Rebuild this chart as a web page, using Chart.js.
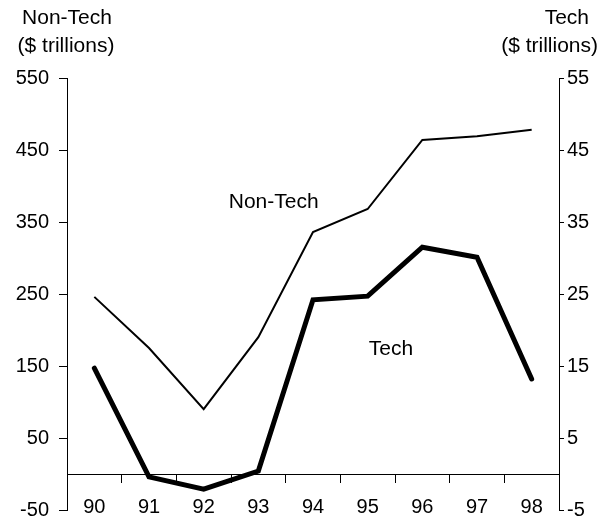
<!DOCTYPE html>
<html>
<head>
<meta charset="utf-8">
<script src="https://cdn.jsdelivr.net/npm/chart.js@4/dist/chart.umd.min.js"></script>
<style>
	html, body { margin:0; padding:0; background:#fff; }
	#wrap { width:602px; height:529px; position:relative; }
</style>
</head>
<body>
<div id="wrap"><canvas id="canvas-tech"></canvas></div>
<script>
	var years = ["90","91","92","93","94","95","96","97","98"];
	var nonTech = [246, 175, 90, 190, 336, 368, 464, 469, 478];
	var tech = [14.7, -0.4, -2.1, 0.4, 24.2, 24.7, 31.5, 30.1, 13.2];
	var leftTicks = [-50, 550, 100];
	var rightTicks = [-5, 55, 10];

	Chart.defaults.font.family = "'Liberation Sans', Arial, sans-serif";
	Chart.defaults.font.size = 20;
	Chart.defaults.color = "#000";

	// text labels drawn on top of the chart
	var textos = {
		id: "textos",
		afterDraw: function(chart){
			var ctx = chart.ctx;
			var x = chart.scales.x, y = chart.scales.y, y1 = chart.scales.y1;
			ctx.save();
			ctx.fillStyle = "#000";
			ctx.font = "21px 'Liberation Sans', Arial, sans-serif";
			ctx.textBaseline = "middle";
			ctx.textAlign = "center";
			ctx.fillText("Non-Tech", 67, 18);
			ctx.fillText("($ trillions)", 66, 46);
			ctx.textAlign = "right";
			ctx.fillText("Tech", 589, 18);
			ctx.fillText("($ trillions)", 598, 46);
			ctx.textAlign = "center";
			ctx.fillText("Non-Tech", (x.getPixelForValue(3) + x.getPixelForValue(4)) / 2 - 12, y.getPixelForValue(378));
			ctx.fillText("Tech", (x.getPixelForValue(5) + x.getPixelForValue(6)) / 2 - 4, y1.getPixelForValue(17.4));
			ctx.restore();
		}
	};

	// fixed axis width, no extra label padding above/below the plot
	function fijarEje(ancho){
		return function(scale){
			scale.width = ancho;
			scale.paddingTop = 0;
			scale.paddingBottom = 0;
		};
	}

	var ctx = document.getElementById("canvas-tech").getContext("2d");
	var config = {
		type: "line",
		data: {
			labels: years,
			datasets: [{
				label: "Non-Tech",
				data: nonTech,
				yAxisID: "y",
				borderColor: "#000",
				borderWidth: 2,
				pointRadius: 0,
				tension: 0
			}, {
				label: "Tech",
				data: tech,
				yAxisID: "y1",
				borderColor: "#000",
				borderWidth: 5,
				borderCapStyle: "round",
				pointRadius: 0,
				tension: 0
			}]
		},
		options: {
			responsive: true,
			maintainAspectRatio: false,
			animation: false,
			layout: { padding: { top: 78, bottom: 19 } },
			plugins: { legend: { display: false }, tooltip: { enabled: false } },
			scales: {
				x: {
					position: { y: 0 },
					offset: true,
					grid: { offset: true, drawOnChartArea: false, drawTicks: true, tickLength: 8, color: "#000" },
					border: { display: true, color: "#000", width: 1 },
					ticks: { padding: 13, maxRotation: 0 }
				},
				y: {
					position: "left",
					min: leftTicks[0], max: leftTicks[1],
					ticks: { stepSize: leftTicks[2], padding: 10 },
					grid: { drawOnChartArea: false, tickLength: 8, color: "#000" },
					border: { display: true, color: "#000", width: 1 },
					afterFit: fijarEje(67)
				},
				y1: {
					position: "right",
					min: rightTicks[0], max: rightTicks[1],
					ticks: { stepSize: rightTicks[2], padding: 3 },
					grid: { drawOnChartArea: false, tickLength: 5, color: "#000" },
					border: { display: true, color: "#000", width: 1 },
					afterFit: fijarEje(43)
				}
			}
		},
		plugins: [textos]
	};
	var chart = new Chart(ctx, config);
</script>
</body>
</html>
